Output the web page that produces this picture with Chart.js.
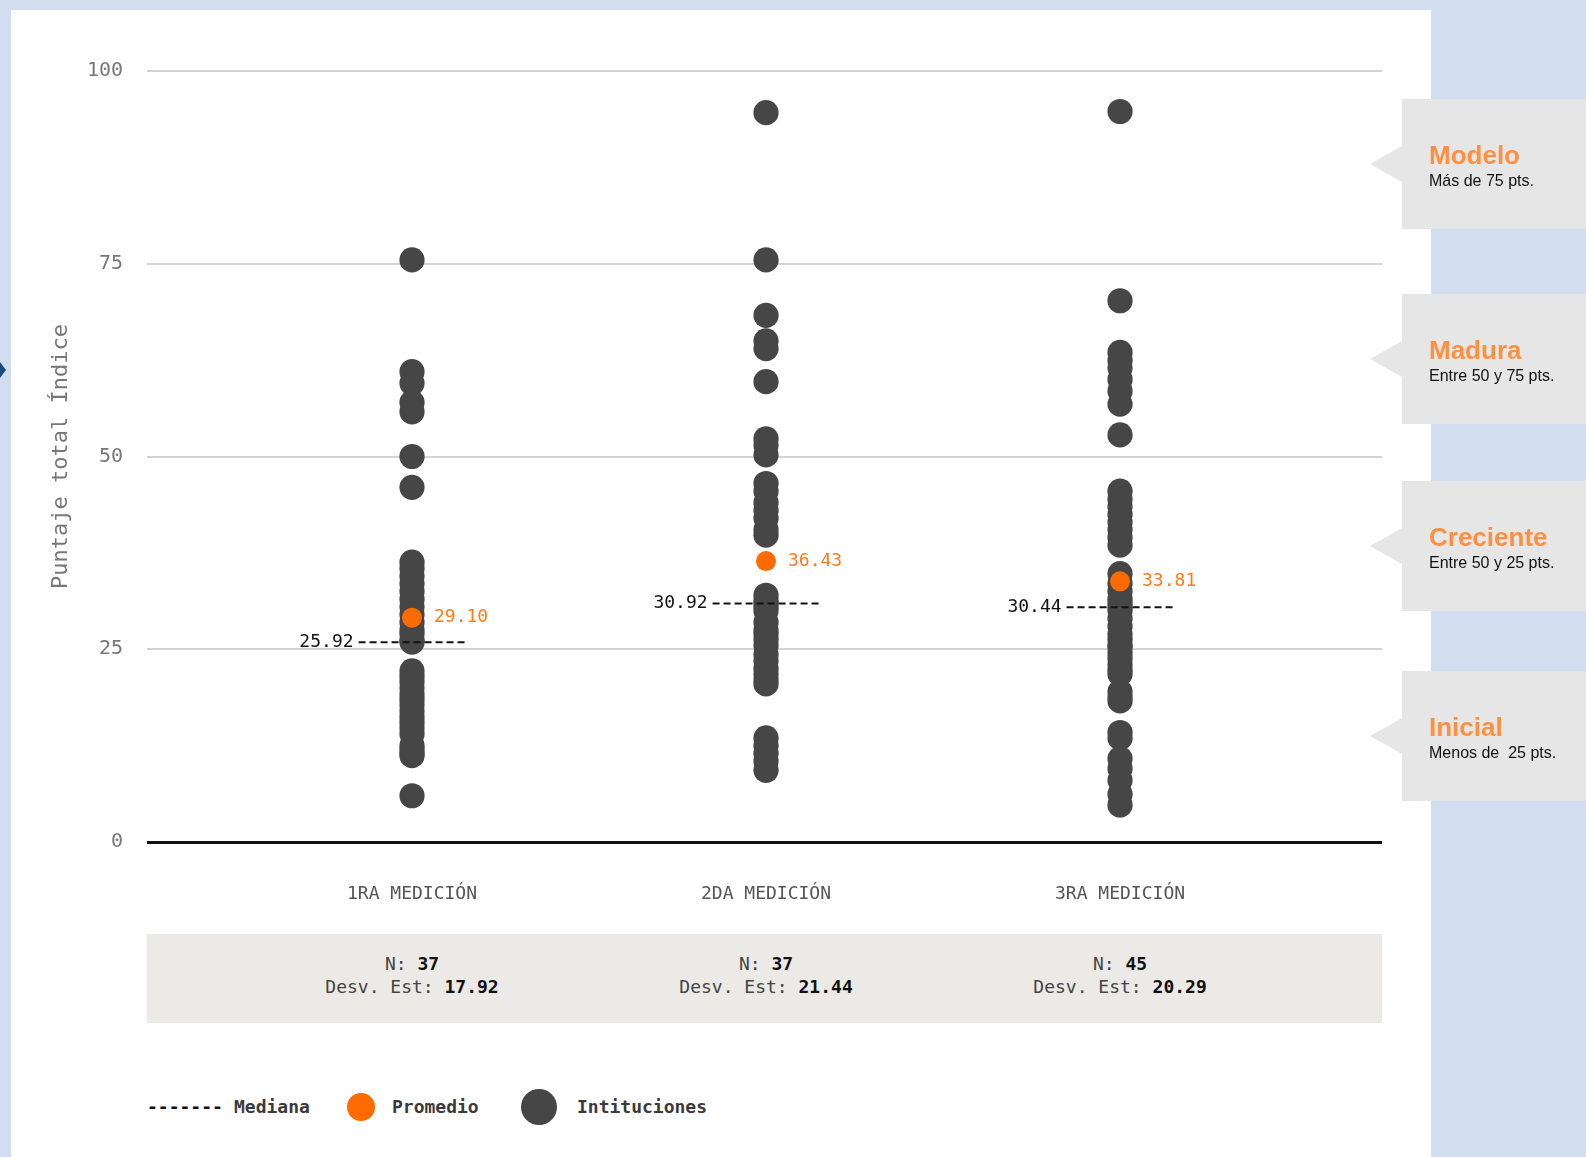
<!DOCTYPE html>
<html>
<head>
<meta charset="utf-8">
<script src="https://cdn.jsdelivr.net/npm/chart.js@4.4.1/dist/chart.umd.min.js"></script>
<style>
  body { margin: 0; width: 1586px; height: 1157px; background: #d3ddf0; overflow: hidden; position: relative; font-family: "DejaVu Sans Mono", monospace; }
  #panel { position: absolute; left: 11px; top: 10px; width: 1420px; height: 1147px; background: #fff; }
  #wrap { position: absolute; left: 0; top: 0; width: 1431px; height: 912px; }
  #arrow { position: absolute; left: 0; top: 362px; width: 0; height: 0; border-top: 8px solid transparent; border-bottom: 8px solid transparent; border-left: 6px solid #1b4a7f; }
  #stats { position: absolute; left: 147px; top: 934px; width: 1235px; height: 89px; background: #ebeae6; }
  .stat { position: absolute; top: 18px; width: 300px; margin-left: -150px; text-align: center; font-size: 18px; line-height: 23px; color: #444; }
  .stat b { color: #111; }
  .box { position: absolute; left: 1402px; width: 184px; height: 130px; background: #e6e6e6; font-family: "Liberation Sans", Arial, sans-serif; }
  .box .tip { position: absolute; left: -32px; top: 47px; width: 0; height: 0; border-top: 18px solid transparent; border-bottom: 18px solid transparent; border-right: 32px solid #e6e6e6; }
  .box .t { position: absolute; left: 27px; top: 41px; font-size: 26px; font-weight: bold; color: #ff9040; }
  .box .s { position: absolute; left: 27px; top: 73px; font-size: 16px; color: #111; white-space: pre; }
  #legend { position: absolute; top: 1094px; left: 0; height: 26px; font-size: 18px; font-weight: bold; color: #3a3a3a; }
  #legend span { position: absolute; top: 0; line-height: 26px; white-space: nowrap; }
  #legend i { position: absolute; border-radius: 50%; }
</style>
</head>
<body>
<div id="panel"></div>
<div id="arrow"></div>
<div id="wrap"><canvas id="myChart" width="1431" height="912"></canvas></div>
<div id="stats"></div>
<div id="legend">
  <span style="left:147px; color:#111;">-------</span>
  <span style="left:234px;">Mediana</span>
  <i style="left:347px; top:-1px; width:28px; height:28px; background:#ff6b00;"></i>
  <span style="left:392px;">Promedio</span>
  <i style="left:521px; top:-5px; width:36px; height:36px; background:#464646;"></i>
  <span style="left:577px;">Intituciones</span>
</div>
<div id="boxes"></div>
<script>
const categories = ['1RA MEDICIÓN', '2DA MEDICIÓN', '3RA MEDICIÓN'];

const medicion1 = [75.5, 61, 59.5, 57, 55.8, 50, 46,
    36.3, 35.5, 34.5, 33.5, 32.5, 31.5, 30.5, 29.5, 28.5, 27.5, 27, 26.2, 25.92,
    22.2, 21.5, 20.8, 20, 19.2, 18.5, 17.8, 17, 16.2, 15.5, 14.8, 14, 12.5, 12, 11.5, 11.2, 6];
const medicion2 = [94.6, 75.5, 68.3, 65, 64, 59.7, 52.3, 51.5, 50.2,
    46.5, 45.5, 44, 43, 42, 40.5, 39.8, 32, 31.3, 30.92,
    30.5, 30, 28.5, 27.5, 27, 26.3, 25.5, 24.3, 23.5, 22.5, 21.8, 21, 20.5,
    13.5, 12.5, 11.5, 10.5, 9.3];
const medicion3 = [94.75, 70.2, 63.5, 62.5, 61.5, 60, 58.5, 56.8, 52.8,
    45.5, 44.5, 43.5, 42.5, 41.5, 40.5, 39.5, 38.5,
    34.8, 33.5, 32.5, 31.5, 31, 30.44,
    30, 29, 28, 27, 26.3, 25.5, 25.3, 24.5, 23.8, 23, 22.3, 21.8,
    19.5, 18.8, 18.3, 14.2, 13.5, 10.8, 9.5, 8, 6.2, 4.8];

const promedios = [29.10, 36.43, 33.81];
const medianas = [25.92, 30.92, 30.44];
const totalN = [37, 37, 45];
const desvEst = [17.92, 21.44, 20.29];
const yTicks = [0, 25, 50, 75, 100];

const niveles = ['Modelo', 'Madura', 'Creciente', 'Inicial'];
const nivelesTexto = ['Más de 75 pts.', 'Entre 50 y 75 pts.', 'Entre 50 y 25 pts.', 'Menos de  25 pts.'];
const nivelesTop = [99, 294, 481, 671];

const halfDash = 0.151;

const puntos = [medicion1, medicion2, medicion3].flatMap((vals, i) => vals.map(v => ({x: i + 1, y: v})));

const medianaSets = medianas.map((m, i) => ({
    type: 'scatter',
    data: [{x: i + 1 - halfDash, y: m}, {x: i + 1 + halfDash, y: m}],
    showLine: true,
    borderColor: '#111',
    borderWidth: 2,
    borderDash: [7, 4],
    pointRadius: 0,
    order: 2
}));

const labelPlugin = {
    id: 'labels',
    afterDatasetsDraw(chart) {
        const {ctx, scales: {x, y}} = chart;
        ctx.save();
        ctx.font = '18px "DejaVu Sans Mono"';
        ctx.textBaseline = 'middle';
        medianas.forEach((m, i) => {
            ctx.fillStyle = '#111';
            ctx.textAlign = 'right';
            ctx.fillText(m.toFixed(2), x.getPixelForValue(i + 1 - halfDash) - 5, y.getPixelForValue(m));
        });
        promedios.forEach((p, i) => {
            ctx.fillStyle = '#ff7a1a';
            ctx.textAlign = 'left';
            ctx.fillText(p.toFixed(2), x.getPixelForValue(i + 1) + 22, y.getPixelForValue(p));
        });
        ctx.restore();
    }
};

const chart = new Chart(document.getElementById('myChart'), {
    type: 'scatter',
    data: {
        datasets: [
            {
                data: puntos,
                backgroundColor: '#464646',
                borderWidth: 0,
                pointRadius: 12.6,
                pointHoverRadius: 12.6,
                order: 3
            },
            ...medianaSets,
            {
                data: promedios.map((p, i) => ({x: i + 1, y: p})),
                backgroundColor: '#ff6b00',
                borderWidth: 0,
                pointRadius: 10,
                pointHoverRadius: 10,
                order: 1
            }
        ]
    },
    options: {
        responsive: false,
        animation: false,
        layout: { padding: { top: 71, right: 49, left: 0, bottom: 0 } },
        plugins: {
            legend: { display: false },
            tooltip: { enabled: false }
        },
        scales: {
            x: {
                type: 'linear',
                min: 0.2514,
                max: 3.74,
                afterFit: (s) => { s.height = 70 },
                afterBuildTicks: (s) => { s.ticks = categories.map((c, i) => ({value: i + 1})) },
                grid: { display: false },
                border: { display: false },
                ticks: {
                    padding: 34,
                    color: '#555',
                    font: { family: 'DejaVu Sans Mono', size: 18 },
                    callback: (v) => categories[v - 1]
                }
            },
            y: {
                min: 0,
                max: 100,
                afterFit: (s) => { s.width = 147 },
                afterBuildTicks: (s) => { s.ticks = yTicks.map(v => ({value: v})) },
                border: { display: false },
                grid: {
                    drawTicks: false,
                    color: (c) => c.tick.value === 0 ? '#111' : '#d4d4d4',
                    lineWidth: (c) => c.tick.value === 0 ? 3 : 2
                },
                ticks: {
                    padding: 24,
                    color: '#777',
                    font: { family: 'DejaVu Sans Mono', size: 20 }
                },
                title: {
                    display: true,
                    text: 'Puntaje total Índice',
                    color: '#777',
                    font: { family: 'DejaVu Sans Mono', size: 22 },
                    padding: { top: 48, bottom: 0 }
                }
            }
        }
    },
    plugins: [labelPlugin]
});

// estadisticas bajo cada medicion
const stats = document.getElementById('stats');
categories.forEach((c, i) => {
    const d = document.createElement('div');
    d.className = 'stat';
    d.style.left = (chart.scales.x.getPixelForValue(i + 1) - 147) + 'px';
    d.innerHTML = `N: <b>${totalN[i]}</b><br>Desv. Est: <b>${desvEst[i].toFixed(2)}</b>`;
    stats.appendChild(d);
});

// cajas de niveles a la derecha
const boxes = document.getElementById('boxes');
niveles.forEach((n, i) => {
    const b = document.createElement('div');
    b.className = 'box';
    b.style.top = nivelesTop[i] + 'px';
    b.innerHTML = `<div class="tip"></div><div class="t">${n}</div><div class="s">${nivelesTexto[i]}</div>`;
    boxes.appendChild(b);
});
</script>
</body>
</html>
